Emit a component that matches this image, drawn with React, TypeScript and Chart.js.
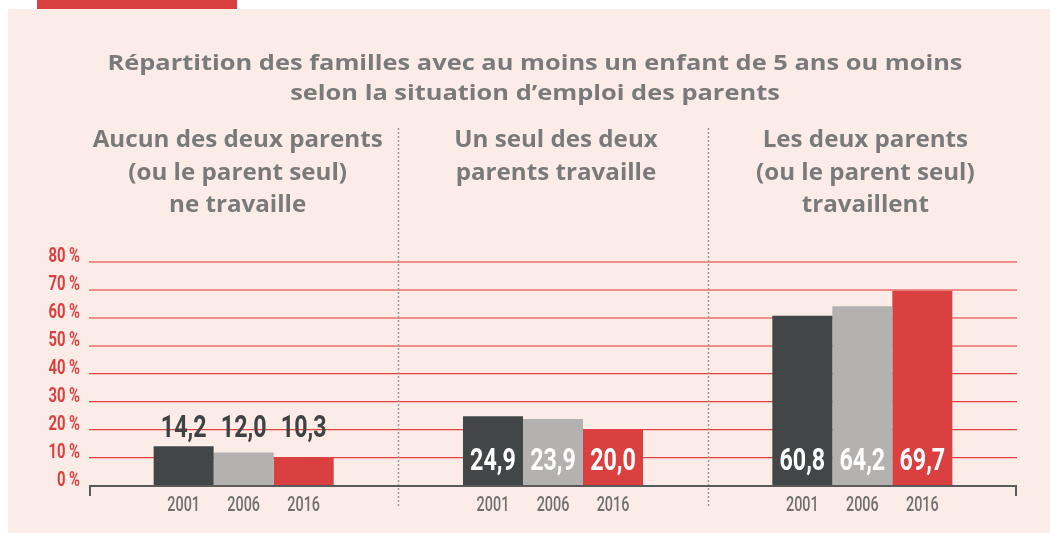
import React, { useEffect, useRef } from "react";
import { Chart, registerables } from "chart.js";

Chart.register(...registerables);

const titleLines = [
  "Répartition des familles avec au moins un enfant de 5 ans ou moins",
  "selon la situation d’emploi des parents",
];
const categories = [
  "Aucun des deux parents (ou le parent seul) ne travaille",
  "Un seul des deux parents travaille",
  "Les deux parents (ou le parent seul) travaillent",
];
const headingLines = [
  ["Aucun des deux parents", "(ou le parent seul)", "ne travaille"],
  ["Un seul des deux", "parents travaille"],
  ["Les deux parents", "(ou le parent seul)", "travaillent"],
];
const years = ["2001", "2006", "2016"];
const values2001 = [14.2, 24.9, 60.8];
const values2006 = [12.0, 23.9, 64.2];
const values2016 = [10.3, 20.0, 69.7];
const yTickValues = [0, 10, 20, 30, 40, 50, 60, 70, 80];
const yTickLabels = yTickValues.map((v) => `${v} %`);

const barColors = ["#434647", "#b3b2b0", "#db4040"];
const PINK = "#fbece8";
const RED = "#db4040";
const GREY_TEXT = "#7a7a7a";
const NUM_FONT = "Roboto, 'DejaVu Sans', sans-serif";
const HEAD_FONT = "'Open Sans', Lato, sans-serif";

function condensed(
  ctx: CanvasRenderingContext2D,
  text: string,
  x: number,
  y: number,
  font: string,
  color: string,
  sx: number,
  align: CanvasTextAlign
) {
  ctx.save();
  ctx.translate(x, y);
  ctx.scale(sx, 1);
  ctx.font = font;
  ctx.fillStyle = color;
  ctx.textAlign = align;
  ctx.textBaseline = "alphabetic";
  ctx.fillText(text, 0, 0);
  ctx.restore();
}

function scaleFor(ctx: CanvasRenderingContext2D, font: string, text: string, target: number) {
  ctx.save();
  ctx.font = font;
  const w = ctx.measureText(text).width;
  ctx.restore();
  return w > 0 ? target / w : 1;
}

const decorPlugin = {
  id: "decor",
  afterDraw(chart: any) {
    const ctx: CanvasRenderingContext2D = chart.ctx;
    const xs = chart.scales.x;
    const ys = chart.scales.y;
    const area = chart.chartArea;

    // title
    const titleFont = `bold 22px ${HEAD_FONT}`;
    const tsx = scaleFor(ctx, titleFont, titleLines[0], 855);
    condensed(ctx, titleLines[0], 527, 61, titleFont, GREY_TEXT, tsx, "center");
    condensed(ctx, titleLines[1], 527, 91, titleFont, GREY_TEXT, tsx, "center");

    // headings
    const headFont = `bold 23px ${HEAD_FONT}`;
    const hsx = scaleFor(ctx, headFont, headingLines[0][0], 290);
    const headShift = [-6, 3, 3];
    categories.forEach((_, i) => {
      const cx = xs.getPixelForValue(i) + headShift[i];
      headingLines[i].forEach((line, k) => {
        condensed(ctx, line, cx, 138 + k * 32.5, headFont, GREY_TEXT, hsx, "center");
      });
    });

    // separators
    ctx.save();
    ctx.strokeStyle = "#9a9a9a";
    ctx.lineWidth = 1.5;
    ctx.setLineDash([2, 2]);
    for (let i = 0; i < categories.length - 1; i++) {
      const bx = Math.round((xs.getPixelForValue(i) + xs.getPixelForValue(i + 1)) / 2) + 0.5;
      ctx.beginPath();
      ctx.moveTo(bx, 119);
      ctx.lineTo(bx, 499);
      ctx.stroke();
    }
    ctx.restore();

    // y tick labels
    yTickValues.forEach((v, i) => {
      const y = ys.getPixelForValue(v);
      condensed(ctx, yTickLabels[i], area.left - 9, y, `bold 20px ${NUM_FONT}`, RED, 0.74, "right");
    });

    // x axis line
    const y0 = Math.round(ys.getPixelForValue(0));
    ctx.save();
    ctx.strokeStyle = "#5a5a5a";
    ctx.lineWidth = 2;
    ctx.beginPath();
    ctx.moveTo(area.left + 1, y0 + 10);
    ctx.lineTo(area.left + 1, y0);
    ctx.lineTo(area.right - 1, y0);
    ctx.lineTo(area.right - 1, y0 + 10);
    ctx.stroke();
    ctx.restore();

    // year labels and value labels
    const metas = chart.data.datasets.map((_: any, d: number) => chart.getDatasetMeta(d));
    categories.forEach((_, j) => {
      const bars = metas.map((m: any) => m.data[j]);
      const minTop = Math.min(...bars.map((b: any) => b.y));
      bars.forEach((bar: any, d: number) => {
        condensed(ctx, years[d], bar.x, y0 + 25, `500 20px ${NUM_FONT}`, "#707070", 0.72, "center");
        const value = chart.data.datasets[d].data[j] as number;
        const label = value.toFixed(1).replace(".", ",");
        const h = bar.base - bar.y;
        if (h > 45) {
          condensed(ctx, label, bar.x, y0 - 16, `bold 31px ${NUM_FONT}`, "#ffffff", 0.75, "center");
        } else {
          condensed(ctx, label, bar.x, minTop - 9, `bold 31px ${NUM_FONT}`, "#404344", 0.75, "center");
        }
      });
    });
  },
};

export default function App() {
  const ref = useRef<HTMLCanvasElement | null>(null);

  useEffect(() => {
    if (!ref.current) return;
    const chart = new Chart(ref.current, {
      type: "bar",
      data: {
        labels: categories,
        datasets: [
          { label: years[0], data: values2001, backgroundColor: barColors[0] },
          { label: years[1], data: values2006, backgroundColor: barColors[1] },
          { label: years[2], data: values2016, backgroundColor: barColors[2] },
        ],
      },
      options: {
        animation: false,
        responsive: false,
        devicePixelRatio: 1,
        layout: { padding: { top: 253, bottom: 47, left: 0, right: 33 } },
        datasets: {
          bar: { barPercentage: 1, categoryPercentage: 0.582, borderWidth: 0 },
        },
        plugins: {
          legend: { display: false },
          tooltip: { enabled: false },
          title: { display: false },
        },
        scales: {
          x: {
            ticks: { display: false },
            grid: { display: false },
            border: { display: false },
            afterFit: (axis: any) => {
              axis.height = 0;
            },
          },
          y: {
            min: 0,
            max: 80,
            ticks: { display: false, stepSize: 10 },
            border: { display: false },
            grid: {
              drawTicks: false,
              color: (c: any) => {
                const v = c.tick ? c.tick.value : 0;
                if (v === 0) return "rgba(0,0,0,0)";
                return v >= 50 ? "rgba(228,80,80,0.6)" : "rgba(222,56,56,0.95)";
              },
              lineWidth: (c: any) => {
                const v = c.tick ? c.tick.value : 0;
                return v >= 50 ? 2 : 1.2;
              },
            },
            afterFit: (axis: any) => {
              axis.width = 81;
            },
          },
        },
      },
      plugins: [decorPlugin],
    });
    return () => chart.destroy();
  }, []);

  return (
    <div style={{ position: "absolute", left: 0, top: 0, width: 1050, height: 533, background: "#ffffff" }}>
      <div style={{ position: "absolute", left: 37, top: 0, width: 200, height: 9, background: RED }} />
      <div style={{ position: "absolute", left: 8, top: 9, width: 1042, height: 524, background: PINK }}>
        <canvas ref={ref} width={1042} height={524} style={{ display: "block", width: 1042, height: 524 }} />
      </div>
    </div>
  );
}
